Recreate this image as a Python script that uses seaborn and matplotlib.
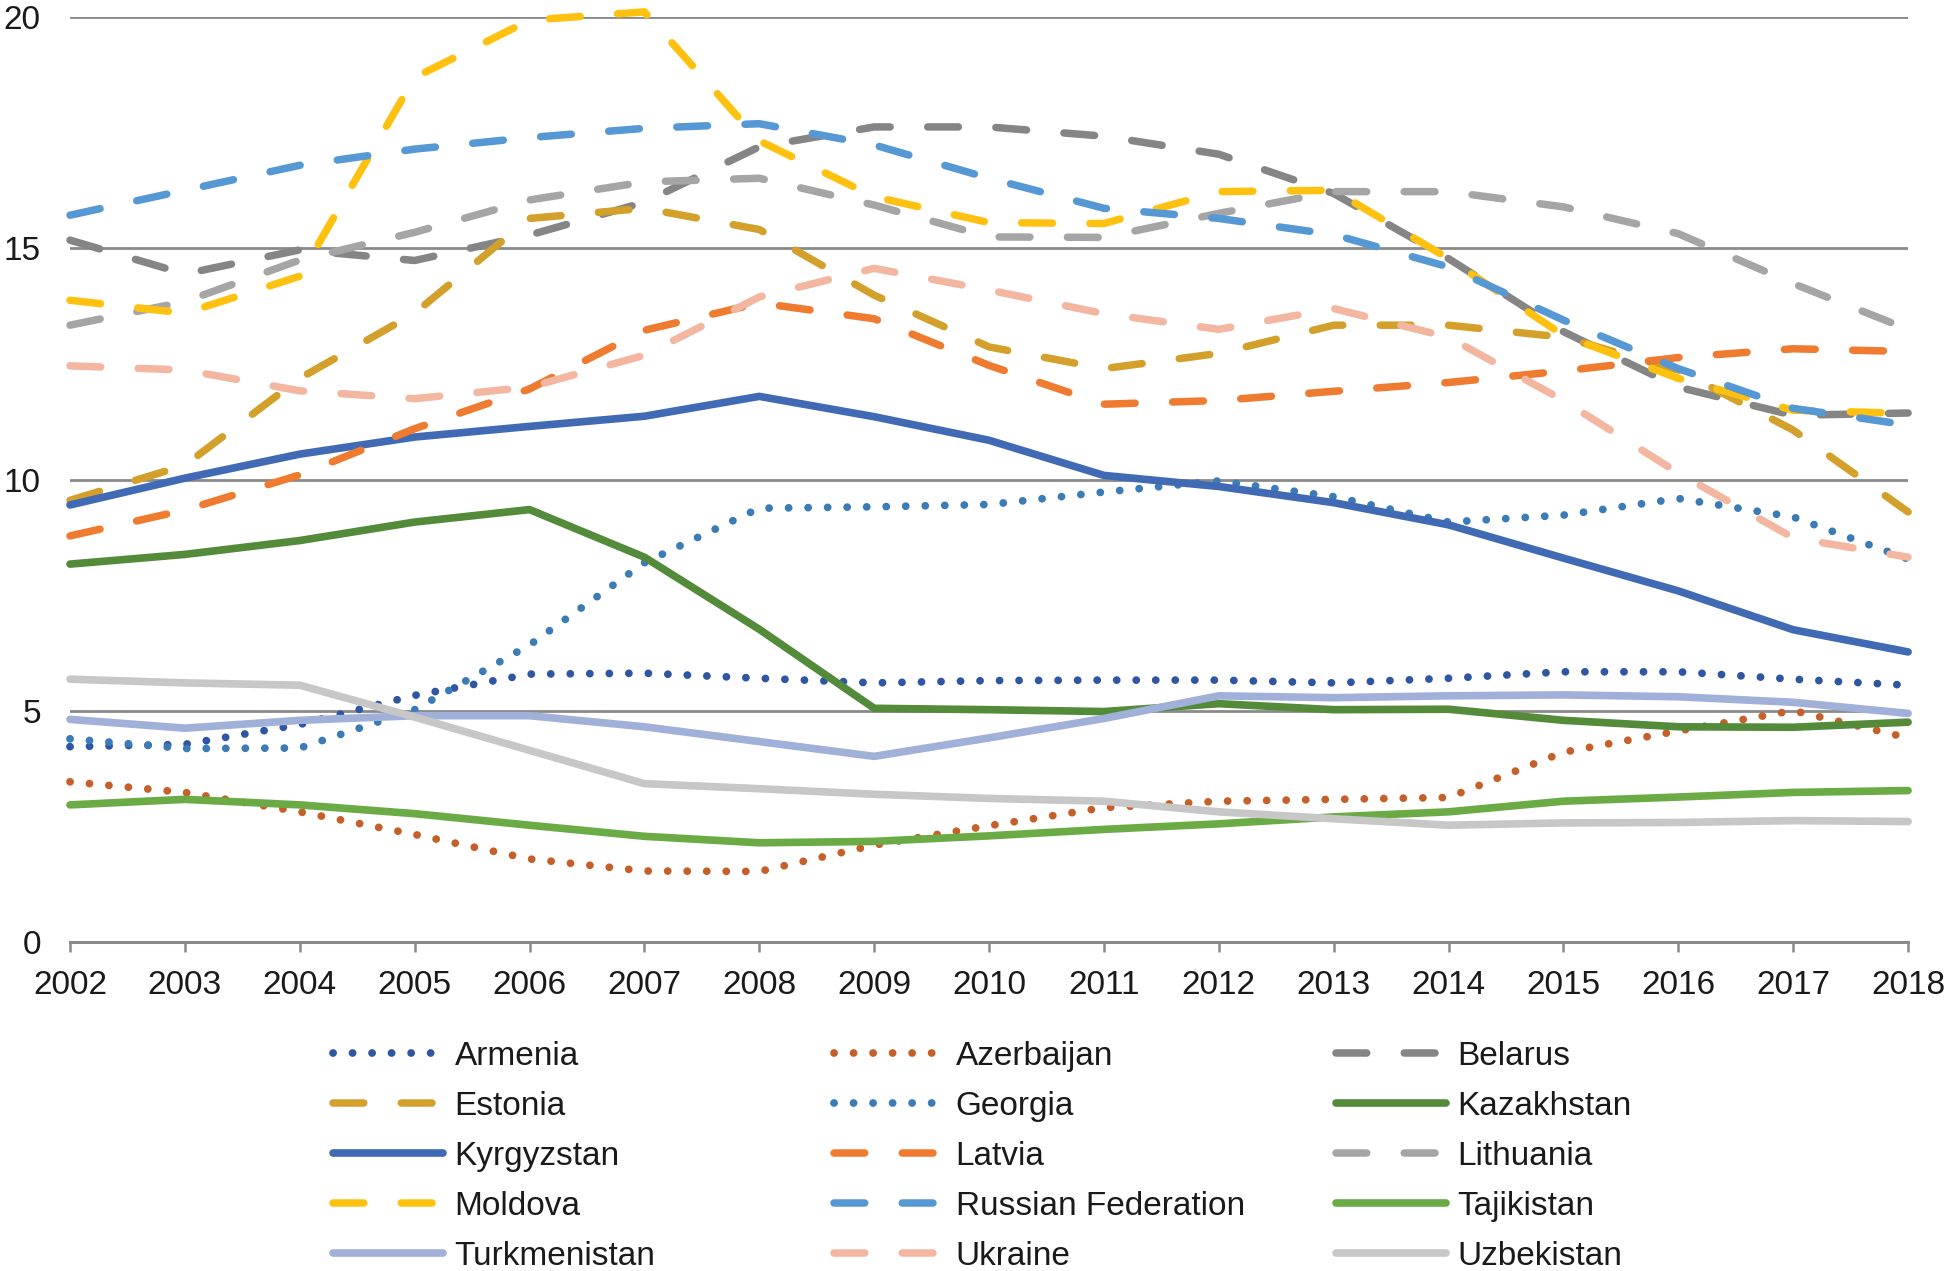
import matplotlib.pyplot as plt
import pandas as pd
import seaborn as sns

years = list(range(2002, 2019))

armenia = [4.22, 4.27, 4.70, 5.33, 5.79, 5.81, 5.70, 5.60, 5.65, 5.66, 5.66, 5.60, 5.70, 5.84, 5.84, 5.68, 5.55]
azerbaijan = [3.46, 3.23, 2.81, 2.32, 1.79, 1.53, 1.52, 2.09, 2.51, 2.90, 3.04, 3.08, 3.12, 4.10, 4.56, 5.00, 4.41]
belarus = [15.18, 14.45, 14.97, 14.74, 15.29, 16.0, 17.2, 17.63, 17.63, 17.43, 17.04, 16.19, 14.78, 13.2, 12.0, 11.39, 11.44]
estonia = [9.55, 10.31, 12.19, 13.6, 15.65, 15.87, 15.41, 13.99, 12.87, 12.4, 12.73, 13.34, 13.34, 13.08, 12.37, 11.07, 9.3]
georgia = [4.39, 4.18, 4.19, 5.02, 6.42, 8.2, 9.38, 9.41, 9.46, 9.73, 9.97, 9.63, 9.08, 9.23, 9.59, 9.19, 8.28]
kazakhstan = [8.17, 8.38, 8.68, 9.08, 9.35, 8.32, 6.76, 5.05, 5.02, 4.98, 5.15, 5.02, 5.03, 4.79, 4.65, 4.64, 4.75]
kyrgyzstan = [9.45, 10.03, 10.55, 10.92, 11.15, 11.37, 11.8, 11.36, 10.85, 10.09, 9.85, 9.5, 9.02, 8.3, 7.59, 6.75, 6.27]
latvia = [8.78, 9.34, 10.1, 11.1, 11.96, 13.23, 13.82, 13.48, 12.47, 11.63, 11.71, 11.91, 12.1, 12.35, 12.64, 12.83, 12.77]
lithuania = [13.34, 13.85, 14.75, 15.35, 16.05, 16.44, 16.52, 15.94, 15.25, 15.24, 15.76, 16.23, 16.23, 15.9, 15.32, 14.24, 13.25]
moldova = [13.88, 13.6, 14.4, 18.7, 19.94, 20.12, 17.33, 16.12, 15.56, 15.54, 16.23, 16.26, 14.78, 13.12, 12.19, 11.5, 11.43]
russia = [15.72, 16.26, 16.8, 17.15, 17.4, 17.6, 17.7, 17.24, 16.52, 15.87, 15.65, 15.3, 14.6, 13.45, 12.4, 11.54, 11.18]
tajikistan = [2.96, 3.08, 2.96, 2.77, 2.52, 2.28, 2.14, 2.17, 2.29, 2.43, 2.55, 2.7, 2.81, 3.04, 3.13, 3.23, 3.27]
turkmenistan = [4.81, 4.62, 4.79, 4.89, 4.89, 4.65, 4.33, 4.01, 4.41, 4.83, 5.32, 5.28, 5.32, 5.34, 5.3, 5.18, 4.94]
ukraine = [12.46, 12.37, 11.92, 11.75, 12.0, 12.69, 13.95, 14.57, 14.1, 13.59, 13.25, 13.7, 13.08, 11.71, 10.14, 8.74, 8.32]
uzbekistan = [5.68, 5.6, 5.55, 4.86, 4.14, 3.42, 3.31, 3.19, 3.1, 3.04, 2.81, 2.66, 2.52, 2.57, 2.58, 2.62, 2.6]

countries = ['Armenia', 'Azerbaijan', 'Belarus', 'Estonia', 'Georgia', 'Kazakhstan',
             'Kyrgyzstan', 'Latvia', 'Lithuania', 'Moldova', 'Russian Federation',
             'Tajikistan', 'Turkmenistan', 'Ukraine', 'Uzbekistan']
series = [armenia, azerbaijan, belarus, estonia, georgia, kazakhstan, kyrgyzstan, latvia,
          lithuania, moldova, russia, tajikistan, turkmenistan, ukraine, uzbekistan]

colors = {
    'Armenia': '#2f56a3', 'Azerbaijan': '#c5602a', 'Belarus': '#858585',
    'Estonia': '#d2a02b', 'Georgia': '#3b7bb6', 'Kazakhstan': '#548b3b',
    'Kyrgyzstan': '#416ab5', 'Latvia': '#ee7b2f', 'Lithuania': '#a5a5a5',
    'Moldova': '#ffc10f', 'Russian Federation': '#5698d4', 'Tajikistan': '#6bab45',
    'Turkmenistan': '#a0b0d9', 'Ukraine': '#f3b6a0', 'Uzbekistan': '#c7c7c7',
}
kind = {
    'Armenia': 'dot', 'Azerbaijan': 'dot', 'Georgia': 'dot',
    'Belarus': 'dash', 'Estonia': 'dash', 'Latvia': 'dash', 'Lithuania': 'dash',
    'Moldova': 'dash', 'Russian Federation': 'dash', 'Ukraine': 'dash',
    'Kazakhstan': 'solid', 'Kyrgyzstan': 'solid', 'Tajikistan': 'solid',
    'Turkmenistan': 'solid', 'Uzbekistan': 'solid',
}

df = pd.DataFrame({'year': years, **dict(zip(countries, series))})
df = df.melt(id_vars='year', var_name='country', value_name='rate')

sns.set_theme(style='white')
plt.rcParams['font.family'] = ['Liberation Sans', 'DejaVu Sans']

fig = plt.figure(figsize=(19.5, 12.71), dpi=100)
ax = fig.add_axes([0.0359, 0.2591, 0.9426, 0.7272])

for c in countries:
    d = df[df['country'] == c]
    if kind[c] == 'dot':
        lw, ls = 5.6, (0, (0.01, 2.5))
    elif kind[c] == 'dash':
        lw, ls = 5.4, (0, (4.1, 5.0))
    else:
        lw, ls = 5.5, '-'
    sns.lineplot(data=d, x='year', y='rate', ax=ax, color=colors[c], label=c,
                 linewidth=lw, linestyle=ls, dash_capstyle='round',
                 solid_capstyle='round', clip_on=False, legend=False)

grid_col = '#8a8a8a'
ax.set_xlim(2002, 2018)
ax.set_ylim(0, 20)
ax.set_xticks(years)
ax.set_xticklabels([str(y) for y in years])
ax.set_yticks([0, 5, 10, 15, 20])
ax.yaxis.grid(True, color=grid_col, linewidth=2)
ax.xaxis.grid(False)
ax.set_axisbelow(True)
ax.set_xlabel('')
ax.set_ylabel('')
for s in ['top', 'right', 'left']:
    ax.spines[s].set_visible(False)
ax.spines['bottom'].set_color(grid_col)
ax.spines['bottom'].set_linewidth(2.2)
ax.tick_params(axis='x', length=7.2, width=1.8, color=grid_col, pad=13,
               labelsize=24, labelcolor='#1a1a1a', bottom=True, direction='out')
ax.tick_params(axis='y', length=0, pad=21, labelsize=24, labelcolor='#1a1a1a')

handles, labels = ax.get_legend_handles_labels()
lookup = dict(zip(labels, handles))
legend_cols = [
    ['Armenia', 'Estonia', 'Kyrgyzstan', 'Moldova', 'Turkmenistan'],
    ['Azerbaijan', 'Georgia', 'Latvia', 'Russian Federation', 'Ukraine'],
    ['Belarus', 'Kazakhstan', 'Lithuania', 'Tajikistan', 'Uzbekistan'],
]
for col, x in zip(legend_cols, [0.1708, 0.4277, 0.6851]):
    fig.legend([lookup[c] for c in col], col, loc='upper left',
               bbox_to_anchor=(x, 0.181), frameon=False, fontsize=24,
               handlelength=3.3, handletextpad=0.35, labelspacing=0.57,
               borderpad=0, borderaxespad=0, labelcolor='#1a1a1a')

fig.savefig('out.png', dpi=100)
